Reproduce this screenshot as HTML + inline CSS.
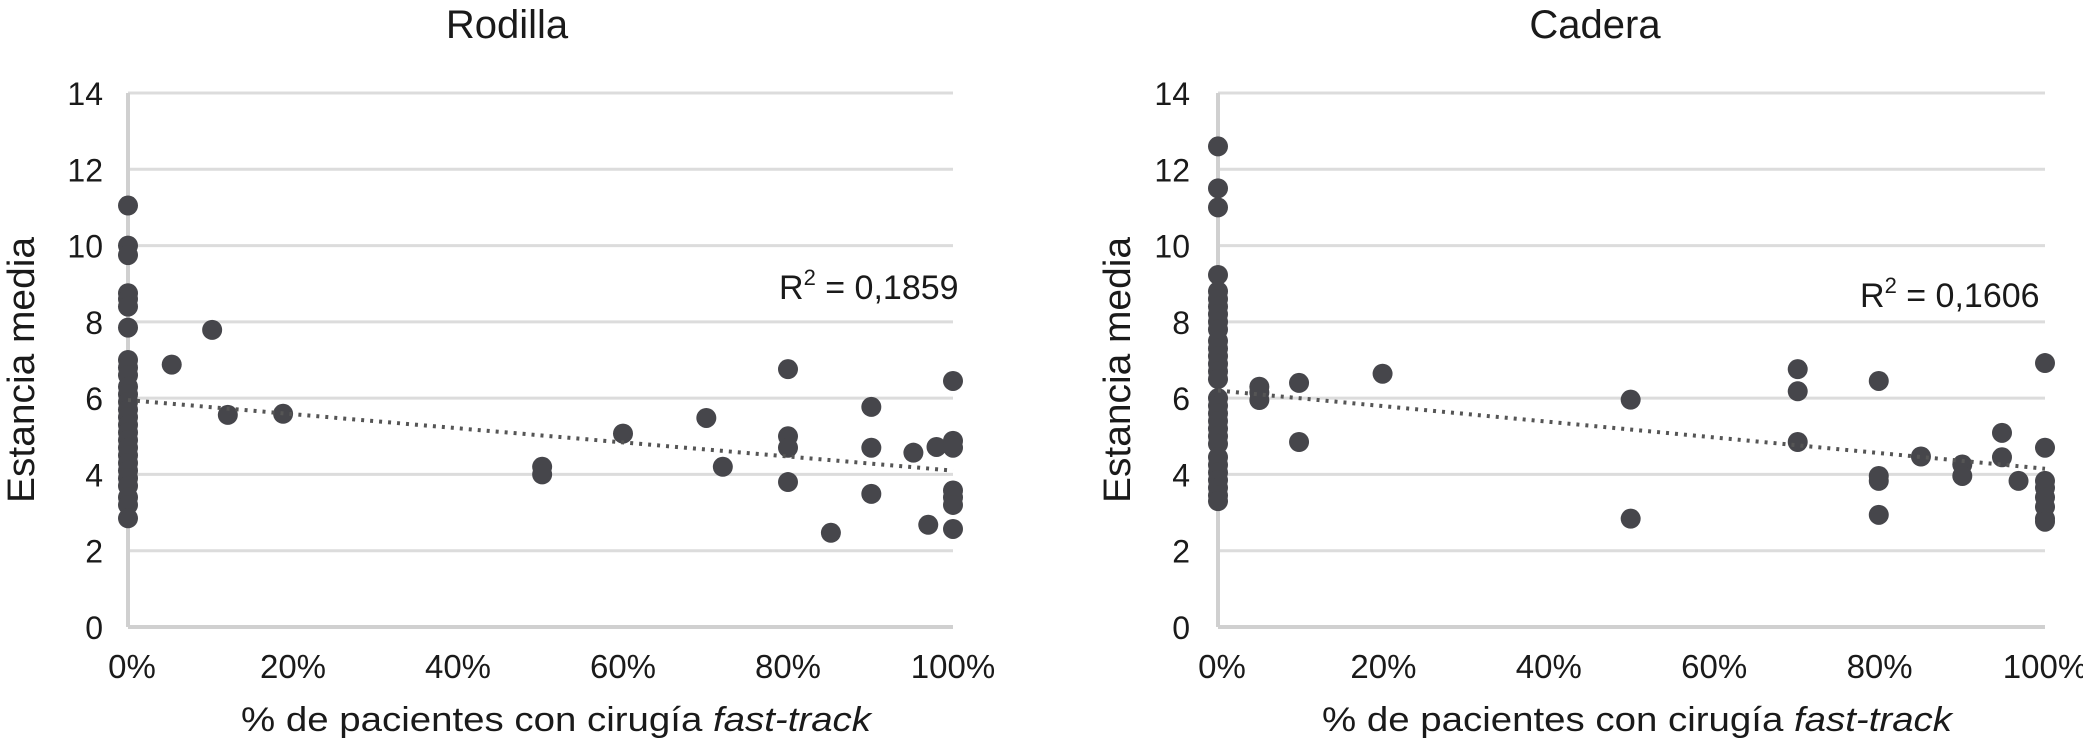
<!DOCTYPE html>
<html><head><meta charset="utf-8"><style>
html,body{margin:0;padding:0;background:#fff;}
svg{display:block;font-family:"Liberation Sans",Arial,sans-serif;}
</style></head><body>
<svg id="chart" width="2083" height="742" viewBox="0 0 2083 742" xmlns="http://www.w3.org/2000/svg"></svg>
<script>
const yTicks = [0,2,4,6,8,10,12,14];
const xTicks = [0,20,40,60,80,100];
const xTickLabels = ["0%","20%","40%","60%","80%","100%"];
const titles = ["Rodilla","Cadera"];
const r2Labels = ["0,1859","0,1606"];
const rodillaX = [0,0,0,0,0,0,0,0,0,0,0,0,0,0,0,0,0,0,0,0,0,0,0,0,0,0,0,
  5.3,10.2,12.1,18.8,50.2,50.2,60,70.1,72.1,80,80,80,80,85.2,90.1,90.1,90.1,95.2,97,98,100,100,100,100,100,100,100];
const rodillaY = [11.05,10.0,9.75,8.75,8.6,8.4,7.85,7.0,6.8,6.6,6.3,6.1,5.9,5.7,5.5,5.3,5.1,4.9,4.7,4.5,4.3,4.1,3.9,3.7,3.4,3.2,2.85,
  6.88,7.79,5.56,5.59,4.2,4.0,5.07,5.48,4.2,6.76,5.0,4.7,3.8,2.47,5.77,4.7,3.49,4.57,2.68,4.72,6.45,4.88,4.7,3.58,3.4,3.2,2.57];
const caderaX = [0,0,0,0,0,0,0,0,0,0,0,0,0,0,0,0,0,0,0,0,0,0,0,0,0,0,0,0,0,0,
  5,5,5,9.8,9.8,19.9,49.9,49.9,70.1,70.1,70.1,79.9,79.9,79.9,79.9,85,90,90,94.8,94.8,96.8,100,100,100,100,100,100,100,100];
const caderaY = [12.6,11.5,11.0,9.23,8.8,8.6,8.4,8.2,8.0,7.8,7.5,7.3,7.1,6.9,6.7,6.5,6.0,5.8,5.6,5.4,5.2,5.0,4.8,4.45,4.25,4.05,3.85,3.65,3.45,3.3,
  6.3,6.15,5.95,6.4,4.85,6.64,5.96,2.84,6.76,6.18,4.85,6.45,3.96,3.83,2.94,4.47,4.26,3.96,5.09,4.45,3.83,6.92,4.7,3.83,3.65,3.4,3.15,2.84,2.76];
const trendStart = [5.95,6.2];
const trendEnd = [4.1,4.15];

const NS="http://www.w3.org/2000/svg";
const svg=document.getElementById('chart');
function mk(tag,attrs,parent){const e=document.createElementNS(NS,tag);for(const k in attrs)e.setAttribute(k,attrs[k]);(parent||svg).appendChild(e);return e;}
const panels=[{x0:128,x1:953,xs:rodillaX,ys:rodillaY,tx:507,tickR:103,ytx:22,r2x:779,r2y:299,xtc:556},
              {x0:1218,x1:2045,xs:caderaX,ys:caderaY,tx:1595,tickR:1190,ytx:1118,r2x:1860,r2y:307,xtc:1637}];
const Y0=627, Y14=93;
function yS(v){return Y0-(v/14)*(Y0-Y14);}
panels.forEach((p,i)=>{
  const xS=v=>p.x0+(v/100)*(p.x1-p.x0);
  const g=mk('g',{});
  
  
  const t=mk('text',{x:p.tx,y:38,'text-anchor':'middle','font-size':40,fill:'#1a1a1a'},g);
  t.textContent=titles[i];
  
  
  yTicks.forEach(v=>{
    if(v>0){const l=mk('line',{x1:p.x0,x2:p.x1,y1:yS(v),y2:yS(v),stroke:'#dcdcdc','stroke-width':3},g);
      
      }
    const tl=mk('text',{x:p.tickR,y:yS(v)+12,'text-anchor':'end','font-size':32,fill:'#1a1a1a'},g);
    tl.textContent=v;
    
    
  });
  const ax=mk('line',{x1:p.x0,x2:p.x0,y1:Y14,y2:Y0,stroke:'#d0d0d0','stroke-width':4},g);
  
  
  const bx=mk('line',{x1:p.x0,x2:p.x1,y1:Y0,y2:Y0,stroke:'#d0d0d0','stroke-width':4},g);
  
  
  xTicks.forEach((v,j)=>{
    const tl=mk('text',{x:xS(v)+(j===0?4:0),y:678,'text-anchor':'middle','font-size':33,fill:'#1a1a1a'},g);
    tl.textContent=xTickLabels[j];
    
    
  });
  const xt=mk('text',{x:p.xtc,y:731,'text-anchor':'middle','font-size':34,fill:'#1a1a1a',textLength:630,lengthAdjust:'spacingAndGlyphs'},g);
  xt.innerHTML='% de pacientes con cirugía <tspan font-style="italic">fast-track</tspan>';
  
  
  const yt=mk('text',{x:0,y:0,'text-anchor':'middle','dominant-baseline':'central','font-size':38,fill:'#1a1a1a',textLength:266,lengthAdjust:'spacingAndGlyphs',transform:`translate(${p.ytx},370) rotate(-90)`},g);
  yt.textContent='Estancia media';
  
  
  p.xs.forEach((xv,k)=>{
    const c=mk('circle',{cx:xS(xv),cy:yS(p.ys[k]),r:10,fill:'#46464b'},g);
    
    
  });
  const tr=mk('line',{x1:xS(0),y1:yS(trendStart[i]),x2:xS(100),y2:yS(trendEnd[i]),stroke:'#555','stroke-width':4,'stroke-dasharray':'3 6'},g);
  
  
  const r2=mk('text',{x:p.r2x,y:p.r2y,'font-size':34,fill:'#1a1a1a'},g);
  r2.innerHTML='R<tspan font-size="22" dy="-14">2</tspan><tspan dy="14"> = '+r2Labels[i]+'</tspan>';
  
  
});
</script>
</body></html>
